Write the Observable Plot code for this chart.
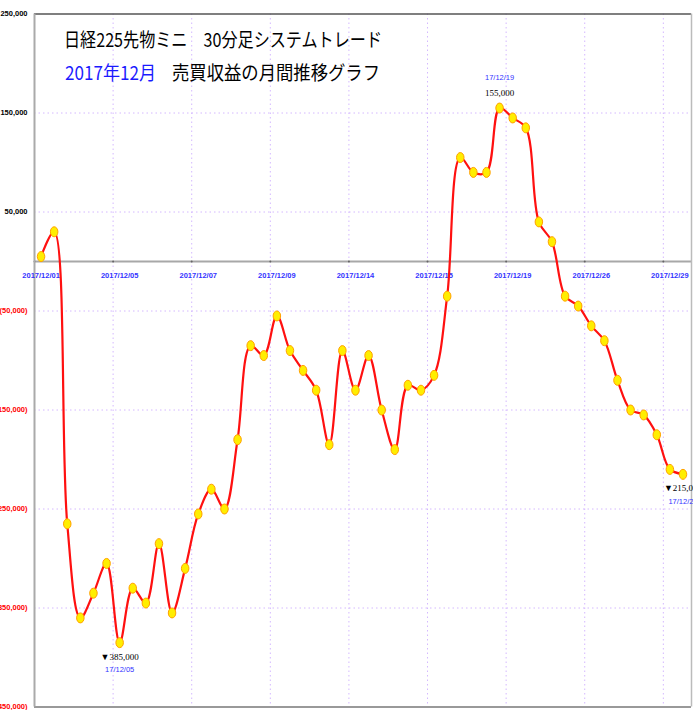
<!DOCTYPE html>
<html>
<head>
<meta charset="utf-8">
<script src="https://cdn.jsdelivr.net/npm/d3@7"></script>
<script src="https://cdn.jsdelivr.net/npm/@observablehq/plot@0.6"></script>
<style>
  html, body { margin: 0; padding: 0; background: #fff; }
  #chart { position: relative; width: 693px; height: 710px; overflow: hidden; }
</style>
</head>
<body>
<div id="chart"></div>
<script>
// ---- data ----
const values = [5000, 30000, -265000, -360000, -335000, -305000, -385000, -330000, -345000, -285000,
  -355000, -310000, -255000, -230000, -250000, -180000, -85000, -95000, -55000, -90000,
  -110000, -130000, -185000, -90000, -130000, -95000, -150000, -190000, -125000, -130000,
  -115000, -35000, 105000, 90000, 90000, 155000, 145000, 135000, 40000, 20000,
  -35000, -45000, -65000, -80000, -120000, -150000, -155000, -175000, -210000, -215000];
const tickIndex = [0, 6, 12, 18, 24, 30, 36, 42, 48];
const tickDates = ["2017/12/01", "2017/12/05", "2017/12/07", "2017/12/09", "2017/12/14",
  "2017/12/15", "2017/12/19", "2017/12/26", "2017/12/29"];
const yTicks = [250000, 150000, 50000, -50000, -150000, -250000, -350000, -450000];
const gridY = [150000, 50000, -50000, -150000, -250000, -350000];
const annAbove = [{i: 35, value: "155,000", date: "17/12/19"}];
const annBelow = [
  {i: 6, value: "▼385,000", date: "17/12/05"},
  {i: 49, value: "▼215,000", date: "17/12/29"}
];
const titleLine1 = "日経225先物ミニ　30分足システムトレード";
const titleLine2a = "2017年12月";
const titleLine2b = "売買収益の月間推移グラフ";

const data = values.map((v, i) => ({i, v}));
const above = annAbove.map(a => ({...a, v: values[a.i]}));
const below = annBelow.map(a => ({...a, v: values[a.i]}));
const gridX = tickIndex.map(i => i - 0.5);

// ellipse symbol
const ellipse = {
  draw(ctx, size) {
    const r = Math.sqrt(size / Math.PI);
    const rx = r * 0.75, ry = r, k = 0.5523;
    ctx.moveTo(rx, 0);
    ctx.bezierCurveTo(rx, k * ry, k * rx, ry, 0, ry);
    ctx.bezierCurveTo(-k * rx, ry, -rx, k * ry, -rx, 0);
    ctx.bezierCurveTo(-rx, -k * ry, -k * rx, -ry, 0, -ry);
    ctx.bezierCurveTo(k * rx, -ry, rx, -k * ry, rx, 0);
    ctx.closePath();
  }
};

const fmt = v => v < 0 ? "(" + d3.format(",")(-v) + ")" : d3.format(",")(v);
const grid = "#d4b8ff";
const sans = "Liberation Sans, Arial, sans-serif";

const chart = Plot.plot({
  width: 693,
  height: 710,
  marginLeft: 34,
  marginRight: 2,
  marginTop: 13.5,
  marginBottom: 3.5,
  style: {background: "#fff", overflow: "hidden"},
  x: {type: "linear", domain: [-0.5, 49.65], axis: null},
  y: {type: "linear", domain: [-450000, 250000], axis: null},
  marks: [
    Plot.ruleY(gridY, {stroke: grid, strokeWidth: 1, strokeDasharray: "1.5,3"}),
    Plot.ruleX(gridX, {stroke: grid, strokeWidth: 1, strokeDasharray: "1.5,3"}),
    Plot.ruleY([0], {stroke: "#a8a8a8", strokeWidth: 2}),
    Plot.dot(gridX, {x: d => d, y: 0, r: 1, fill: "#666", stroke: null}),
    // frame
    Plot.ruleY([250000], {stroke: "#555", strokeWidth: 1.5}),
    Plot.ruleY([-450000], {stroke: "#999", strokeWidth: 2}),
    Plot.ruleX([-0.5], {stroke: "#aaa", strokeWidth: 2}),
    Plot.ruleX([49.65], {stroke: "#bbb", strokeWidth: 1.5}),
    // y labels
    Plot.text(yTicks, {
      y: d => d, frameAnchor: "left", dx: -7, textAnchor: "end",
      text: fmt, fill: d => d < 0 ? "#ff0000" : "#000",
      fontSize: 7.5, fontWeight: "bold", fontFamily: sans
    }),
    // x labels
    Plot.text(tickIndex, {
      x: d => d, y: 0, dy: 14, text: (d, k) => tickDates[k],
      fill: "#3333ff", fontSize: 7.5, fontWeight: "bold", fontFamily: sans
    }),
    // series
    Plot.line(data, {x: "i", y: "v", curve: "catmull-rom", stroke: "#ff1010", strokeWidth: 2.2}),
    Plot.dot(data, {x: "i", y: "v", r: 5, symbol: ellipse, fill: "#ffee00", stroke: "#ffa000", strokeWidth: 1}),
    // annotations
    Plot.text(above, {x: "i", y: "v", text: "value", dy: -15, fill: "#000", fontSize: 9, fontFamily: "Liberation Serif, serif"}),
    Plot.text(above, {x: "i", y: "v", text: "date", dy: -30, fill: "#3333ff", fontSize: 7.5, fontFamily: sans}),
    Plot.text(below, {x: "i", y: "v", text: "value", dy: 14, fill: "#000", fontSize: 9, fontFamily: "Liberation Serif, serif"}),
    Plot.text(below, {x: "i", y: "v", text: "date", dy: 27, fill: "#3333ff", fontSize: 7.5, fontFamily: sans})
  ]
});

document.getElementById("chart").appendChild(chart);

// titles
const svg = d3.select(chart);
const tg = svg.append("g")
  .attr("font-family", "Noto Sans CJK JP, sans-serif")
  .attr("font-size", 19)
  .attr("text-anchor", "start");
tg.append("text").attr("x", 64).attr("y", 47).attr("fill", "#000")
  .attr("textLength", 318).attr("lengthAdjust", "spacingAndGlyphs").text(titleLine1);
tg.append("text").attr("x", 65).attr("y", 80).attr("fill", "#1a1aff")
  .attr("textLength", 91).attr("lengthAdjust", "spacingAndGlyphs").text(titleLine2a);
tg.append("text").attr("x", 172).attr("y", 80).attr("fill", "#000")
  .attr("textLength", 208).attr("lengthAdjust", "spacingAndGlyphs").text(titleLine2b);
</script>
</body>
</html>
